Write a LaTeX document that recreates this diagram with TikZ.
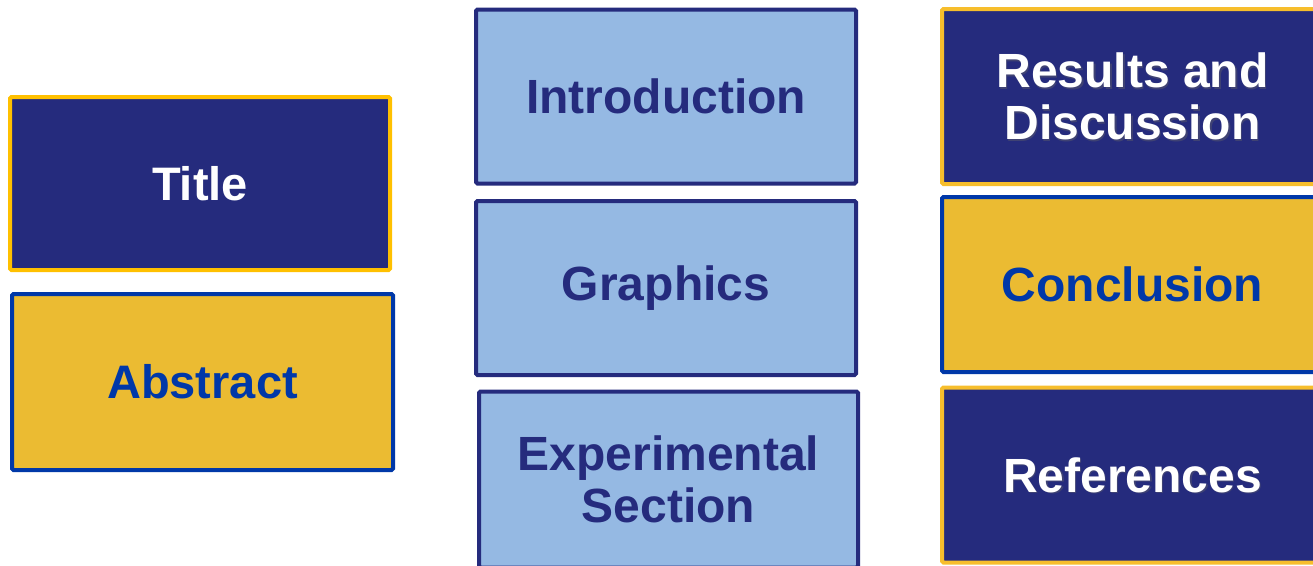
\documentclass[tikz,border=0pt]{standalone}
\usepackage{fontspec}
\setmainfont{Liberation Sans}
\definecolor{navy}{HTML}{252B7D}
\definecolor{lightblue}{HTML}{95B9E3}
\definecolor{goldfill}{HTML}{EBBB32}
\definecolor{goldline}{HTML}{FFC000}
\definecolor{goldline2}{HTML}{F7BE2C}
\definecolor{royal}{HTML}{0038A8}
\tikzset{
  box/.style={rectangle, rounded corners=1.5pt, line width=4pt, inner sep=0pt, align=center,
    font=\fontsize{48}{52}\selectfont\bfseries},
  darkbox/.style={box, fill=navy, text=white},
  goldbox/.style={box, fill=goldfill, draw=royal, text=royal},
  bluebox/.style={box, fill=lightblue, draw=navy, text=navy},
  shadowtext/.style={inner sep=0pt, align=center, text=black!60, opacity=0.4,
    font=\fontsize{48}{52}\selectfont\bfseries},
}
\begin{document}
\begin{tikzpicture}[x=1pt,y=-1pt]
\useasboundingbox (0,0) rectangle (1313,565);
\clip (0,0) rectangle (1313,565);
% left column
\node[darkbox, draw=goldline, minimum width=380pt, minimum height=173pt, font=\fontsize{47}{51}\selectfont\bfseries] (title) at (200,183.5) {Title};
\node[goldbox, minimum width=381pt, minimum height=176pt, font=\fontsize{47}{51}\selectfont\bfseries] (abstract) at (202.5,382) {Abstract};
% middle column
\node[bluebox, minimum width=380pt, minimum height=174pt] (intro) at (666,96.5) {Introduction};
\node[bluebox, minimum width=380pt, minimum height=174pt] (graphics) at (666,288) {Graphics};
\node[bluebox, minimum width=379pt, minimum height=176pt] (exp) at (668.5,479.5) {Experimental\\Section};
% right column
\node[darkbox, draw=goldline2, minimum width=381pt, minimum height=175pt] (results) at (1132.5,96.5) {};
\node[shadowtext] (resultsshadow) at ([xshift=1.5pt,yshift=-1.5pt]results.center) {Results and\\Discussion};
\node[inner sep=0pt, align=center, text=white, font=\fontsize{48}{52}\selectfont\bfseries] (resultstext) at (results.center) {Results and\\Discussion};
\node[goldbox, minimum width=381pt, minimum height=175pt] (conclusion) at (1132.5,284.5) {Conclusion};
\node[darkbox, draw=goldline2, minimum width=381pt, minimum height=175pt] (references) at (1132.5,475) {};
\node[shadowtext] (refshadow) at ([xshift=1.5pt,yshift=-1.5pt]references.center) {References};
\node[inner sep=0pt, align=center, text=white, font=\fontsize{48}{52}\selectfont\bfseries] (reftext) at (references.center) {References};
\end{tikzpicture}
\end{document}
